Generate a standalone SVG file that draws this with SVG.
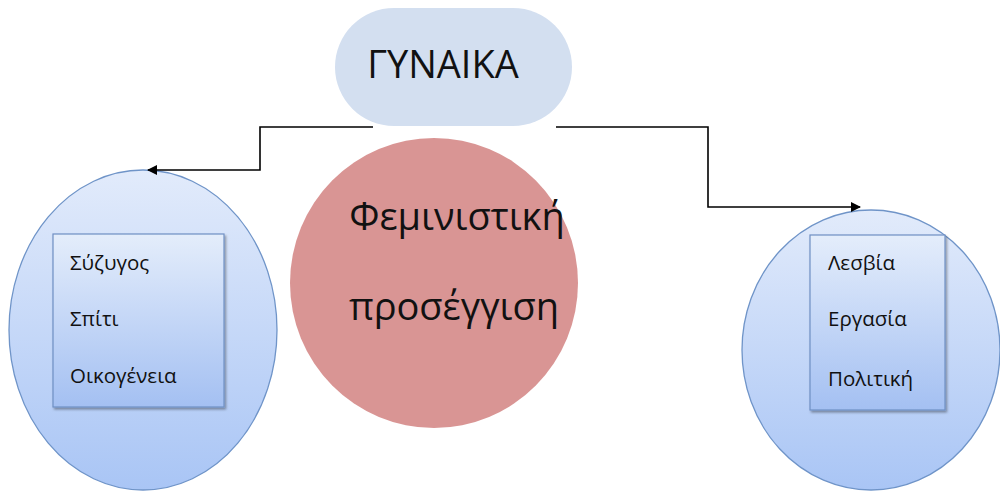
<svg xmlns="http://www.w3.org/2000/svg" width="1000" height="493" viewBox="0 0 1000 493">
  <style>
    .lbl { font-family: "Open Sans", "Noto Sans", "DejaVu Sans", sans-serif; fill: #111; }
    .small { font-size: 20.5px; }
    .big { font-size: 38px; }
    .conn { fill: none; stroke: #000; stroke-width: 1.6; }
    .oval { stroke: #6f94c8; stroke-width: 1.3; fill: url(#ovalGrad); }
    .box { stroke: #6f8fc4; stroke-width: 1.2; fill: url(#boxGrad); filter: url(#shadow); }
  </style>
  <defs>
    <linearGradient id="ovalGrad" x1="0" y1="0" x2="0" y2="1">
      <stop offset="0" stop-color="#e2ebfb"/>
      <stop offset="1" stop-color="#a9c5f5"/>
    </linearGradient>
    <linearGradient id="boxGrad" x1="0" y1="0" x2="0" y2="1">
      <stop offset="0" stop-color="#e4edfb"/>
      <stop offset="1" stop-color="#a4c0f2"/>
    </linearGradient>
    <filter id="shadow" x="-10%" y="-10%" width="130%" height="130%">
      <feDropShadow dx="1.5" dy="2" stdDeviation="1.2" flood-color="#000" flood-opacity="0.35"/>
    </filter>
    <marker id="arrow" viewBox="0 0 10 10" refX="9" refY="5" markerWidth="11" markerHeight="10" markerUnits="userSpaceOnUse" orient="auto">
      <path d="M0,0 L10,5 L0,10 z" fill="#000"/>
    </marker>
  </defs>

  <g id="node-gynaika">
    <rect x="335" y="8" width="237" height="118" rx="59" ry="59" fill="#d3dff0"/>
    <text class="lbl" x="443" y="78" font-size="38" text-anchor="middle">ΓΥΝΑΙΚΑ</text>
  </g>

  <g id="node-feministiki">
    <ellipse cx="434" cy="283" rx="144" ry="145" fill="#d99594"/>
    <text class="lbl big" x="457" y="230" text-anchor="middle">Φεμινιστική</text>
    <text class="lbl big" x="454" y="320" text-anchor="middle">προσέγγιση</text>
  </g>

  <g id="node-left">
    <ellipse class="oval" cx="143" cy="330" rx="134" ry="160"/>
    <rect class="box" x="53" y="234" width="171" height="173"/>
    <text class="lbl small" x="70" y="270">Σύζυγος</text>
    <text class="lbl small" x="70" y="326">Σπίτι</text>
    <text class="lbl small" x="70" y="383">Οικογένεια</text>
  </g>

  <g id="node-right">
    <ellipse class="oval" cx="871" cy="350" rx="129" ry="140"/>
    <rect class="box" x="810" y="235" width="135" height="175"/>
    <text class="lbl small" x="828" y="270">Λεσβία</text>
    <text class="lbl small" x="828" y="326">Εργασία</text>
    <text class="lbl small" x="828" y="386">Πολιτική</text>
  </g>

  <g id="connectors">
    <path class="conn" d="M373,127 H260 V170 H148" marker-end="url(#arrow)"/>
    <path class="conn" d="M556,127 H708 V207 H860" marker-end="url(#arrow)"/>
  </g>
</svg>
